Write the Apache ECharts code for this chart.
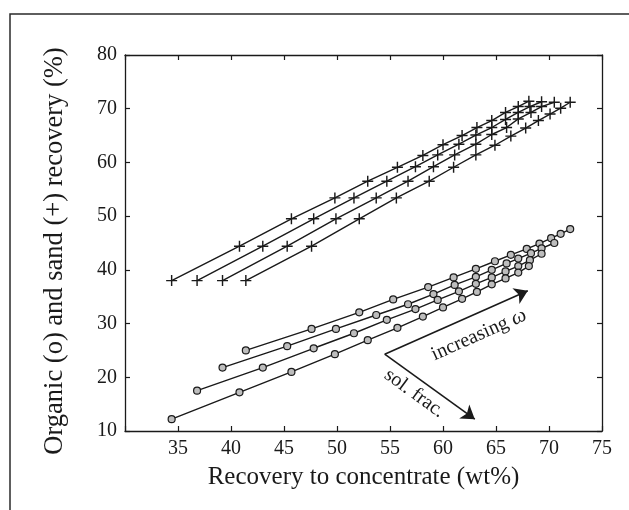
<!DOCTYPE html>
<html>
<head>
<meta charset="utf-8">
<script src="https://cdn.jsdelivr.net/npm/echarts@6/dist/echarts.min.js"></script>
<style>
html,body{margin:0;padding:0;background:#fff;}
#c{width:629px;height:510px;}
</style>
</head>
<body>
<div id="c"></div>
<script>
// ---- data ----
var xTicks = [35, 40, 45, 50, 55, 60, 65, 70, 75];
var yTicks = [10, 20, 30, 40, 50, 60, 70, 80];

var sandX1 = [34.4, 40.8, 45.7, 49.8, 52.9, 55.7, 58.1, 60.0, 61.8, 63.2, 64.6, 65.9, 67.1, 68.1];
var sandY1 = [38.0, 44.4, 49.5, 53.4, 56.5, 59.1, 61.3, 63.3, 65.0, 66.5, 67.8, 69.3, 70.4, 71.4];
var sandX2 = [36.8, 43.0, 47.8, 51.6, 54.7, 57.4, 59.5, 61.5, 63.1, 64.6, 65.9, 67.1, 68.2, 69.3];
var sandY2 = [38.0, 44.4, 49.5, 53.4, 56.5, 59.2, 61.4, 63.4, 65.1, 66.5, 68.0, 69.3, 70.4, 71.3];
var sandX3 = [39.2, 45.3, 49.9, 53.7, 56.7, 59.1, 61.1, 63.1, 64.6, 66.0, 67.1, 68.3, 69.3, 70.5];
var sandY3 = [38.0, 44.4, 49.5, 53.4, 56.5, 59.2, 61.4, 63.4, 65.2, 66.5, 68.1, 69.3, 70.4, 71.2];
var sandX4 = [41.4, 47.6, 52.1, 55.6, 58.7, 61.0, 63.1, 64.9, 66.4, 67.8, 69.0, 70.1, 71.1, 72.0];
var sandY4 = [38.0, 44.4, 49.5, 53.4, 56.5, 59.1, 61.4, 63.2, 64.9, 66.4, 67.8, 69.0, 70.1, 71.2];

var orgX1 = [41.4, 47.6, 52.1, 55.3, 58.6, 61.0, 63.1, 64.9, 66.4, 67.9, 69.1, 70.2, 71.1, 72.0];
var orgY1 = [25.0, 29.0, 32.1, 34.5, 36.8, 38.6, 40.2, 41.6, 42.8, 43.9, 44.9, 45.9, 46.7, 47.6];
var orgX2 = [39.2, 45.3, 49.9, 53.7, 56.7, 59.1, 61.1, 63.1, 64.6, 66.0, 67.1, 68.3, 69.3, 70.5];
var orgY2 = [21.8, 25.8, 29.0, 31.6, 33.6, 35.5, 37.2, 38.7, 40.0, 41.2, 42.1, 43.1, 44.0, 45.0];
var orgX3 = [36.8, 43.0, 47.8, 51.6, 54.7, 57.4, 59.5, 61.5, 63.1, 64.6, 65.9, 67.1, 68.2, 69.3];
var orgY3 = [17.5, 21.8, 25.4, 28.2, 30.7, 32.7, 34.4, 36.0, 37.4, 38.6, 39.7, 40.7, 41.8, 43.0];
var orgX4 = [34.4, 40.8, 45.7, 49.8, 52.9, 55.7, 58.1, 60.0, 61.8, 63.2, 64.6, 65.9, 67.1, 68.1];
var orgY4 = [12.2, 17.2, 21.0, 24.3, 26.9, 29.2, 31.3, 33.0, 34.6, 35.9, 37.3, 38.4, 39.5, 40.7];

// annotation arrows (data coords)
var arrowStart = [54.5, 24.3];
var arrowOmegaEnd = [68.0, 36.1];
var arrowSolEnd = [63.0, 12.2];
var labelOmegaAt = [63.4, 27.9];
var labelSolAt = [57.3, 17.0];

// ---- chart ----
var FONT = '"Liberation Serif", "Times New Roman", serif';
var INK = '#1a1a1a';
function pairs(xs, ys) { return xs.map(function (x, i) { return [x, ys[i]]; }); }

var plusPath = 'path://M4.35,0h1.3v4.35h4.35v1.3h-4.35v4.35h-1.3v-4.35h-4.35v-1.3h4.35z';

function sandSeries(xs, ys) {
  return {
    type: 'line', data: pairs(xs, ys), symbol: plusPath, symbolSize: 11,
    showAllSymbol: true,
    lineStyle: { color: INK, width: 1.4 },
    itemStyle: { color: INK },
    silent: true, z: 3
  };
}
function orgSeries(xs, ys) {
  return {
    type: 'line', data: pairs(xs, ys), symbol: 'circle', symbolSize: 7,
    showAllSymbol: true,
    lineStyle: { color: INK, width: 1.4 },
    itemStyle: { color: '#bdbdbd', borderColor: INK, borderWidth: 1.2 },
    silent: true, z: 3
  };
}

var series = [
  sandSeries(sandX1, sandY1), sandSeries(sandX2, sandY2),
  sandSeries(sandX3, sandY3), sandSeries(sandX4, sandY4),
  orgSeries(orgX1, orgY1), orgSeries(orgX2, orgY2),
  orgSeries(orgX3, orgY3), orgSeries(orgX4, orgY4),
  {
    type: 'line', data: [], silent: true,
    markLine: {
      silent: true, animation: false,
      symbol: ['none', 'arrow'], symbolSize: 13,
      label: { show: false },
      lineStyle: { color: INK, width: 1.6, type: 'solid' },
      itemStyle: { color: INK },
      data: [
        [{ coord: arrowStart }, { coord: arrowOmegaEnd }],
        [{ coord: arrowStart }, { coord: arrowSolEnd }]
      ]
    }
  }
];

var axisCommon = {
  type: 'value',
  axisLine: { show: true, onZero: false, lineStyle: { color: INK, width: 1.3 } },
  axisTick: { show: true, inside: true, length: 5, lineStyle: { color: INK, width: 1.2 } },
  splitLine: { show: false }
};

var chart = echarts.init(document.getElementById('c'), null, { renderer: 'canvas' });
var option = {
  backgroundColor: '#ffffff',
  animation: false,
  grid: { left: 125, top: 55, width: 477, height: 376, containLabel: false, outerBoundsMode: 'none' },
  xAxis: [
    Object.assign({}, axisCommon, {
      position: 'bottom', min: 30, max: 75, interval: 5,
      axisLabel: {
        color: INK, fontFamily: FONT, fontSize: 20, margin: 8,
        formatter: function (v) { return xTicks.indexOf(v) >= 0 ? String(v) : ''; }
      },
      name: 'Recovery to concentrate (wt%)', nameLocation: 'middle', nameGap: 34,
      nameTextStyle: { color: INK, fontFamily: FONT, fontSize: 25 }
    }),
    Object.assign({}, axisCommon, {
      position: 'top', min: 30, max: 75, interval: 5, axisLabel: { show: false }
    })
  ],
  yAxis: [
    Object.assign({}, axisCommon, {
      position: 'left', min: 10, max: 80, interval: 10,
      axisLabel: {
        color: INK, fontFamily: FONT, fontSize: 20, margin: 8,
        formatter: function (v) { return yTicks.indexOf(v) >= 0 ? String(v) : ''; }
      }
    }),
    Object.assign({}, axisCommon, {
      position: 'right', min: 10, max: 80, interval: 10, axisLabel: { show: false }
    })
  ],
  series: series
};
chart.setOption(option);

var pO = chart.convertToPixel({ gridIndex: 0 }, labelOmegaAt);
var pS = chart.convertToPixel({ gridIndex: 0 }, labelSolAt);
chart.setOption({
  graphic: [
    {
      type: 'rect', silent: true, z: 0,
      shape: { x: 10, y: 14, width: 700, height: 600 },
      style: { fill: 'none', stroke: '#2a2a2a', lineWidth: 1.5 }
    },
    {
      type: 'text', silent: true, x: 55, y: 251, rotation: Math.PI / 2,
      style: {
        text: 'Organic (o) and sand (+) recovery (%)', fill: INK, font: '26.5px ' + FONT,
        align: 'center', verticalAlign: 'middle'
      }
    },
    {
      type: 'text', silent: true, x: pO[0], y: pO[1], rotation: 24 * Math.PI / 180,
      style: {
        text: 'increasing {w|ω}', fill: INK, font: '20px ' + FONT,
        align: 'center', verticalAlign: 'middle',
        rich: { w: { fontStyle: 'italic', fontFamily: FONT, fontSize: 21, fill: INK } }
      }
    },
    {
      type: 'text', silent: true, x: pS[0], y: pS[1], rotation: -36 * Math.PI / 180,
      style: {
        text: 'sol. frac.', fill: INK, font: '20px ' + FONT,
        align: 'center', verticalAlign: 'middle'
      }
    }
  ]
});
</script>
</body>
</html>
